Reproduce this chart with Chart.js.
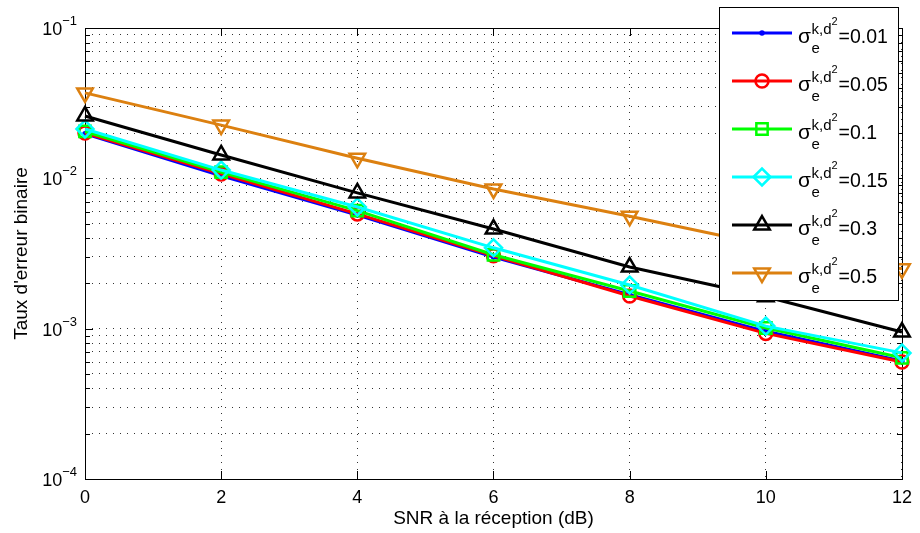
<!DOCTYPE html>
<html>
<head>
<meta charset="utf-8">
<script src="https://cdn.jsdelivr.net/npm/chart.js@4.4.1/dist/chart.umd.min.js"></script>
<style>
  html, body { margin: 0; padding: 0; background: #fff; }
  #wrap { width: 920px; height: 533px; }
</style>
</head>
<body>
<div id="wrap"><canvas id="berChart"></canvas></div>
<script>
// SNR (dB) and BER values
const snr = [0, 2, 4, 6, 8, 10, 12];
const ber001 = [0.0198, 0.0104, 0.0057, 0.0030, 0.00168, 0.00096, 0.00061];
const ber005 = [0.0200, 0.0107, 0.0058, 0.00305, 0.00165, 0.00093, 0.00060];
const ber01  = [0.0205, 0.0110, 0.0061, 0.0031, 0.00178, 0.00101, 0.00064];
const ber015 = [0.0213, 0.01135, 0.00645, 0.00345, 0.00195, 0.00104, 0.00069];
const ber03  = [0.026, 0.0143, 0.0080, 0.0046, 0.00257, 0.00163, 0.00095];
const ber05  = [0.037, 0.0226, 0.0136, 0.0085, 0.0056, 0.0036, 0.0025];
const sigmaVals = ['0.01', '0.05', '0.1', '0.15', '0.3', '0.5'];
const xTicks = [0, 2, 4, 6, 8, 10, 12];
const yDecades = [-4, -3, -2, -1];

const FONT = '"Liberation Sans", Arial, Helvetica, sans-serif';

const series = [
  { data: ber001, color: '#0000ff', style: 'circle',   r: 1.5, rot: 0,   fill: true },
  { data: ber005, color: '#ff0000', style: 'circle',   r: 6.5, rot: 0,   fill: false },
  { data: ber01,  color: '#00ff00', style: 'rect',     r: 8,   rot: 0,   fill: false },
  { data: ber015, color: '#00ffff', style: 'rectRot',  r: 8.5, rot: 0,   fill: false },
  { data: ber03,  color: '#000000', style: 'triangle', r: 9,   rot: 0,   fill: false },
  { data: ber05,  color: '#dc8010', style: 'triangle', r: 9,   rot: 180, fill: false }
];

const datasets = series.map((s, i) => ({
  label: 'sigma=' + sigmaVals[i],
  data: snr.map((x, j) => ({ x: x, y: s.data[j] })),
  borderColor: s.color,
  borderWidth: 3,
  pointStyle: s.style,
  pointRadius: s.r,
  pointRotation: s.rot,
  pointBorderWidth: 2.5,
  pointBorderColor: s.color,
  pointBackgroundColor: s.fill ? s.color : 'rgba(0,0,0,0)',
  pointHoverRadius: s.r,
  tension: 0,
  clip: false,
  order: series.length - i
}));

const matlabFrame = {
  id: 'matlabFrame',
  beforeDatasetsDraw(chart) {
    const { ctx, chartArea: a, scales: { x, y } } = chart;
    ctx.save();
    ctx.strokeStyle = '#000';
    ctx.lineWidth = 1;
    ctx.beginPath();
    xTicks.forEach(v => {
      const px = Math.round(x.getPixelForValue(v)) + 0.5;
      ctx.moveTo(px, a.bottom); ctx.lineTo(px, a.bottom - 8);
      ctx.moveTo(px, a.top); ctx.lineTo(px, a.top + 8);
    });
    y.ticks.forEach(t => {
      const py = Math.round(y.getPixelForValue(t.value)) + 0.5;
      const len = t.major ? 8 : 5;
      ctx.moveTo(a.left, py); ctx.lineTo(a.left + len, py);
      ctx.moveTo(a.right, py); ctx.lineTo(a.right - len, py);
    });
    ctx.stroke();
    ctx.strokeRect(Math.round(a.left) + 0.5, Math.round(a.top) + 0.5,
      Math.round(a.right - a.left), Math.round(a.bottom - a.top));

    // y tick labels as 10^k
    ctx.fillStyle = '#000';
    ctx.textBaseline = 'alphabetic';
    yDecades.forEach(e => {
      const py = y.getPixelForValue(Math.pow(10, e));
      const sup = '\u2212' + Math.abs(e);
      ctx.font = '13px ' + FONT;
      const ws = ctx.measureText(sup).width;
      const xe = a.left - 8;
      ctx.textAlign = 'left';
      ctx.fillText(sup, xe - ws, py - 3);
      ctx.font = '18px ' + FONT;
      ctx.textAlign = 'right';
      ctx.fillText('10', xe - ws, py + 7);
    });
    ctx.restore();
  },
  afterDatasetsDraw(chart) {
    const { ctx } = chart;
    const H = Chart.helpers;
    ctx.save();
    ctx.fillStyle = '#fff';
    ctx.fillRect(719, 7, 179, 293);
    ctx.strokeStyle = '#000';
    ctx.lineWidth = 1;
    ctx.strokeRect(719.5, 7.5, 179, 293);
    series.forEach((s, i) => {
      const ly = 33 + 48 * i;
      ctx.strokeStyle = s.color;
      ctx.lineWidth = 3;
      ctx.beginPath();
      ctx.moveTo(732, ly); ctx.lineTo(792, ly);
      ctx.stroke();
      ctx.lineWidth = 2.5;
      ctx.fillStyle = s.fill ? s.color : 'rgba(0,0,0,0)';
      H.drawPoint(ctx, { pointStyle: s.style, radius: s.r, rotation: s.rot, borderWidth: 2.5 }, 762, ly);

      ctx.fillStyle = '#000';
      ctx.textAlign = 'left';
      ctx.textBaseline = 'alphabetic';
      let xx = 798;
      ctx.font = '21px ' + FONT;
      ctx.fillText('\u03c3', xx, ly + 10);
      xx += ctx.measureText('\u03c3').width + 0.5;
      ctx.font = '15px ' + FONT;
      ctx.fillText('e', xx, ly + 20);
      ctx.fillText('k,d', xx, ly + 1);
      const wkd = ctx.measureText('k,d').width;
      ctx.font = '11px ' + FONT;
      ctx.fillText('2', xx + wkd, ly - 8);
      xx += wkd + ctx.measureText('2').width + 1;
      ctx.font = '19.5px ' + FONT;
      ctx.fillText('=' + sigmaVals[i], xx, ly + 10);
    });
    ctx.restore();
  }
};

new Chart(document.getElementById('berChart'), {
  type: 'line',
  data: { datasets: datasets },
  options: {
    responsive: true,
    maintainAspectRatio: false,
    animation: false,
    layout: { padding: { top: 28, right: 13, left: 0, bottom: 0 } },
    plugins: { legend: { display: false }, tooltip: { enabled: false } },
    scales: {
      x: {
        type: 'linear',
        min: 0, max: 12,
        afterBuildTicks(scale) { scale.ticks = xTicks.map(v => ({ value: v })); },
        afterFit(scale) { scale.height = 54; },
        ticks: { font: { family: FONT, size: 18 }, color: '#000', padding: 8, maxRotation: 0 },
        grid: { color: 'rgba(0,0,0,0.8)', lineWidth: 1, drawTicks: false },
        border: { display: false, dash: [1, 6] },
        title: { display: true, text: 'SNR à la réception (dB)', color: '#000',
          font: { family: FONT, size: 19 }, padding: { top: 0, bottom: 3 } }
      },
      y: {
        type: 'logarithmic',
        min: 1e-4, max: 1e-1,
        afterBuildTicks(scale) {
          const t = [];
          yDecades.forEach(e => {
            for (let m = 1; m <= 9; m++) {
              const v = m * Math.pow(10, e);
              if (v <= 0.1 + 1e-12) t.push({ value: v, major: m === 1 });
            }
          });
          scale.ticks = t;
        },
        afterFit(scale) { scale.width = 85; },
        ticks: { display: false },
        grid: { color: 'rgba(0,0,0,0.8)', lineWidth: 1, drawTicks: false },
        border: { display: false, dash: [1, 6] },
        title: { display: true, text: "Taux d'erreur binaire", color: '#000',
          font: { family: FONT, size: 19 }, padding: { top: 10, bottom: 0 } }
      }
    }
  },
  plugins: [matlabFrame]
});
</script>
</body>
</html>
